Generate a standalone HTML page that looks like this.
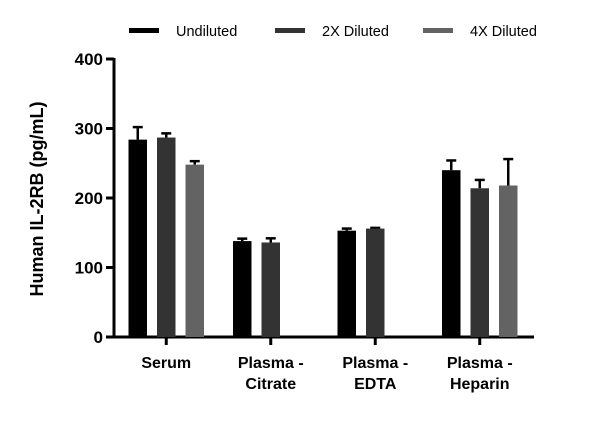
<!DOCTYPE html>
<html><head><meta charset="utf-8"><style>
body{margin:0;background:#fff;}
svg{display:block;font-family:"Liberation Sans",sans-serif;}
</style></head><body>
<svg id="chart" width="600" height="429" viewBox="0 0 600 429">
<g id="legend"></g>
<g id="axes"></g>
<g id="bars"></g>
<text transform="translate(43,199) rotate(-90)" text-anchor="middle" font-size="18" font-weight="bold">Human IL-2RB (pg/mL)</text>
</svg>
<script>
const categories=[["Serum"],["Plasma -","Citrate"],["Plasma -","EDTA"],["Plasma -","Heparin"]];
const seriesNames=["Undiluted","2X Diluted","4X Diluted"];
const undiluted=[284,138,153,240];
const undilutedErr=[18,3.5,3,14];
const diluted2x=[287,136,156,214];
const diluted2xErr=[6,6,1,12];
const diluted4x=[248,null,null,218];
const diluted4xErr=[5,null,null,38];
const yTicks=[0,100,200,300,400];
const colors=["#000000","#333333","#636363"];
const NS="http://www.w3.org/2000/svg";
const x0=114,x1=534,yBase=337,yTop=59,yMax=400;
const y=v=>yBase-(v/yMax)*(yBase-yTop);
const groupW=(x1-x0-2)/categories.length;
const gx=i=>x0+groupW*(i+0.5);
const barW=18.5,barStep=28.5;
function mk(tag,attrs,parent){const e=document.createElementNS(NS,tag);for(const k in attrs)e.setAttribute(k,attrs[k]);parent.appendChild(e);return e;}
const axes=document.getElementById('axes'),bars=document.getElementById('bars'),legend=document.getElementById('legend');
let a=mk('line',{x1:x0,y1:yTop-1,x2:x0,y2:yBase+1.5,stroke:'#000','stroke-width':3},axes);


a=mk('line',{x1:x0-1.5,y1:yBase,x2:x1,y2:yBase,stroke:'#000','stroke-width':3},axes);


yTicks.forEach(t=>{
 const l=mk('line',{x1:x0-8,y1:y(t),x2:x0,y2:y(t),stroke:'#000','stroke-width':3},axes);
 
 
 const tx=mk('text',{x:x0-11,y:y(t)+6,'text-anchor':'end','font-size':17,'font-weight':'bold'},axes);
 tx.textContent=t;
 
 
});
const vals=[undiluted,diluted2x,diluted4x],errs=[undilutedErr,diluted2xErr,diluted4xErr];
categories.forEach((c,i)=>{
 const cx=gx(i);
 const l=mk('line',{x1:cx,y1:yBase,x2:cx,y2:yBase+8,stroke:'#000','stroke-width':3},axes);
 
 
 c.forEach((ln,k)=>{
  const tx=mk('text',{x:cx,y:368+k*21,'text-anchor':'middle','font-size':16,'font-weight':'bold'},axes);
  tx.textContent=ln;
  
  
 });
 vals.forEach((s,j)=>{
  const v=s[i];if(v==null)return;
  const bx=cx+(j-1)*barStep;
  const e=errs[j][i];
  const el=mk('line',{x1:bx,y1:y(v),x2:bx,y2:y(v+e),stroke:'#000','stroke-width':2.5},bars);
  
  
  const ec=mk('line',{x1:bx-5,y1:y(v+e),x2:bx+5,y2:y(v+e),stroke:'#000','stroke-width':2.5},bars);
  
  
  const r=mk('rect',{x:bx-barW/2,y:y(v),width:barW,height:yBase-y(v),fill:colors[j]},bars);
  
  
 });
});
const lx=[129,275,423];
seriesNames.forEach((n,j)=>{
 const r=mk('rect',{x:lx[j],y:28,width:30,height:5,fill:colors[j]},legend);
 
 
 const t=mk('text',{x:lx[j]+47,y:36,'font-size':14.5,fill:'#000'},legend);
 t.textContent=n;
 
 
});
</script>
</body></html>
